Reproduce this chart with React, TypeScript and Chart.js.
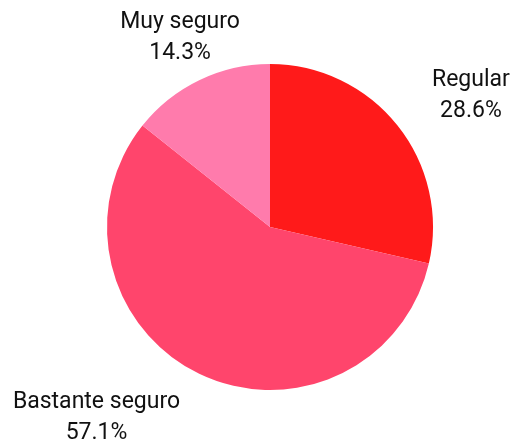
import React, { useEffect, useRef } from "react";
import { Chart, registerables } from "chart.js";

Chart.register(...registerables);

const categories = ["Regular", "Bastante seguro", "Muy seguro"];
const values = [28.6, 57.1, 14.3];
const valueLabels = ["28.6%", "57.1%", "14.3%"];
const colors = ["#FF1A1A", "#FF456C", "#FF7BAC"];
const labelAligns: CanvasTextAlign[] = ["left", "right", "center"];

const outLabels = {
  id: "outLabels",
  afterDatasetsDraw(chart: any) {
    const ctx = chart.ctx;
    const meta = chart.getDatasetMeta(0);
    ctx.save();
    ctx.font = "23px Roboto";
    ctx.fillStyle = "#111";
    ctx.textBaseline = "middle";
    meta.data.forEach((arc: any, i: number) => {
      const p = arc.getProps(["x", "y", "startAngle", "endAngle", "outerRadius"], true);
      const mid = (p.startAngle + p.endAngle) / 2;
      const d = p.outerRadius + 44;
      const vx = Math.cos(mid);
      const vy = Math.sin(mid);
      const ax = p.x + vx * d;
      const ay = p.y + vy * d + vy * 4;
      const lines = [categories[i], valueLabels[i]];
      const widths = lines.map((l) => ctx.measureText(l).width);
      const bw = Math.max(...widths);
      let cx = ax;
      if (labelAligns[i] === "left") cx = ax + bw / 2;
      else if (labelAligns[i] === "right") cx = ax - bw / 2;
      ctx.textAlign = "center";
      ctx.fillText(lines[0], cx, ay - 15);
      ctx.fillText(lines[1], cx, ay + 16);
    });
    ctx.restore();
  },
};

export default function App() {
  const ref = useRef<HTMLCanvasElement>(null);
  useEffect(() => {
    if (!ref.current) return;
    const chart = new Chart(ref.current, {
      type: "pie",
      data: {
        labels: categories,
        datasets: [
          {
            data: values,
            backgroundColor: colors,
            borderWidth: 0,
          },
        ],
      },
      options: {
        animation: false,
        responsive: false,
        layout: { padding: { top: 64, bottom: 53, left: 107, right: 93 } },
        plugins: {
          legend: { display: false },
          tooltip: { enabled: false },
        },
      },
      plugins: [outLabels],
    });
    return () => chart.destroy();
  }, []);
  return (
    <div style={{ position: "fixed", left: 0, top: 0, width: 526, height: 443, background: "#fff" }}>
      <canvas ref={ref} width={526} height={443} />
    </div>
  );
}
